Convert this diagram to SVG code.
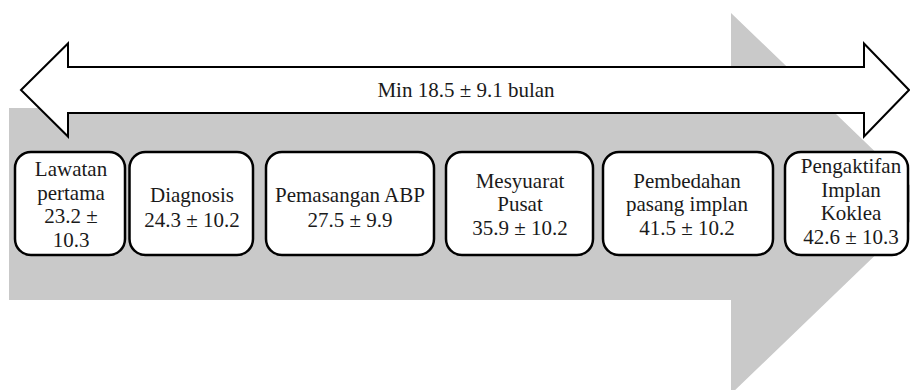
<svg xmlns="http://www.w3.org/2000/svg" width="910" height="390" viewBox="0 0 910 390">
  <style>
    .node rect { fill: #ffffff; stroke: #000000; stroke-width: 2.5; }
    text { font-family: 'Liberation Serif', 'DejaVu Serif', serif; font-size: 21px; fill: #1a1a1a; text-anchor: middle; }
  </style>
  <rect x="0" y="0" width="910" height="390" fill="#ffffff"/>
  <g id="bg-arrow">
    <polygon points="9,108 731,108 731,13 929,203.5 731,394 731,300 9,300" fill="#c9c9c9"/>
  </g>
  <g id="duration-arrow">
    <polygon points="21,90 68,43.5 68,67 864,67 864,43.5 909,90 864,136.5 864,113 68,113 68,136.5" fill="#ffffff" stroke="#000000" stroke-width="2" stroke-linejoin="miter"/>
    <text x="466" y="97" font-family="Liberation Serif, serif">Min 18.5 ± 9.1 bulan</text>
  </g>
  <g id="connectors"></g>
  <g id="n1" class="node">
    <rect x="15" y="152" width="110" height="103" rx="16" ry="16"/>
    <text x="71" y="176">Lawatan</text>
    <text x="71" y="200">pertama</text>
    <text x="71" y="223">23.2 ±</text>
    <text x="71" y="247">10.3</text>
  </g>
  <g id="n2" class="node">
    <rect x="129.5" y="152" width="123.5" height="103" rx="16" ry="16"/>
    <text x="192" y="202">Diagnosis</text>
    <text x="192" y="226.5">24.3 ± 10.2</text>
  </g>
  <g id="n3" class="node">
    <rect x="266" y="152" width="168" height="103" rx="16" ry="16"/>
    <text x="350" y="202">Pemasangan ABP</text>
    <text x="350" y="226.5">27.5 ± 9.9</text>
  </g>
  <g id="n4" class="node">
    <rect x="446" y="152" width="147" height="103" rx="16" ry="16"/>
    <text x="520" y="188">Mesyuarat</text>
    <text x="520" y="211">Pusat</text>
    <text x="520" y="234.5">35.9 ± 10.2</text>
  </g>
  <g id="n5" class="node">
    <rect x="603" y="152" width="170" height="103" rx="16" ry="16"/>
    <text x="687" y="188">Pembedahan</text>
    <text x="687" y="211">pasang implan</text>
    <text x="687" y="235">41.5 ± 10.2</text>
  </g>
  <g id="n6" class="node">
    <rect x="785" y="152" width="123" height="103" rx="16" ry="16"/>
    <text x="851" y="173">Pengaktifan</text>
    <text x="851" y="196.5">Implan</text>
    <text x="851" y="220">Koklea</text>
    <text x="851" y="244">42.6 ± 10.3</text>
  </g>
</svg>
